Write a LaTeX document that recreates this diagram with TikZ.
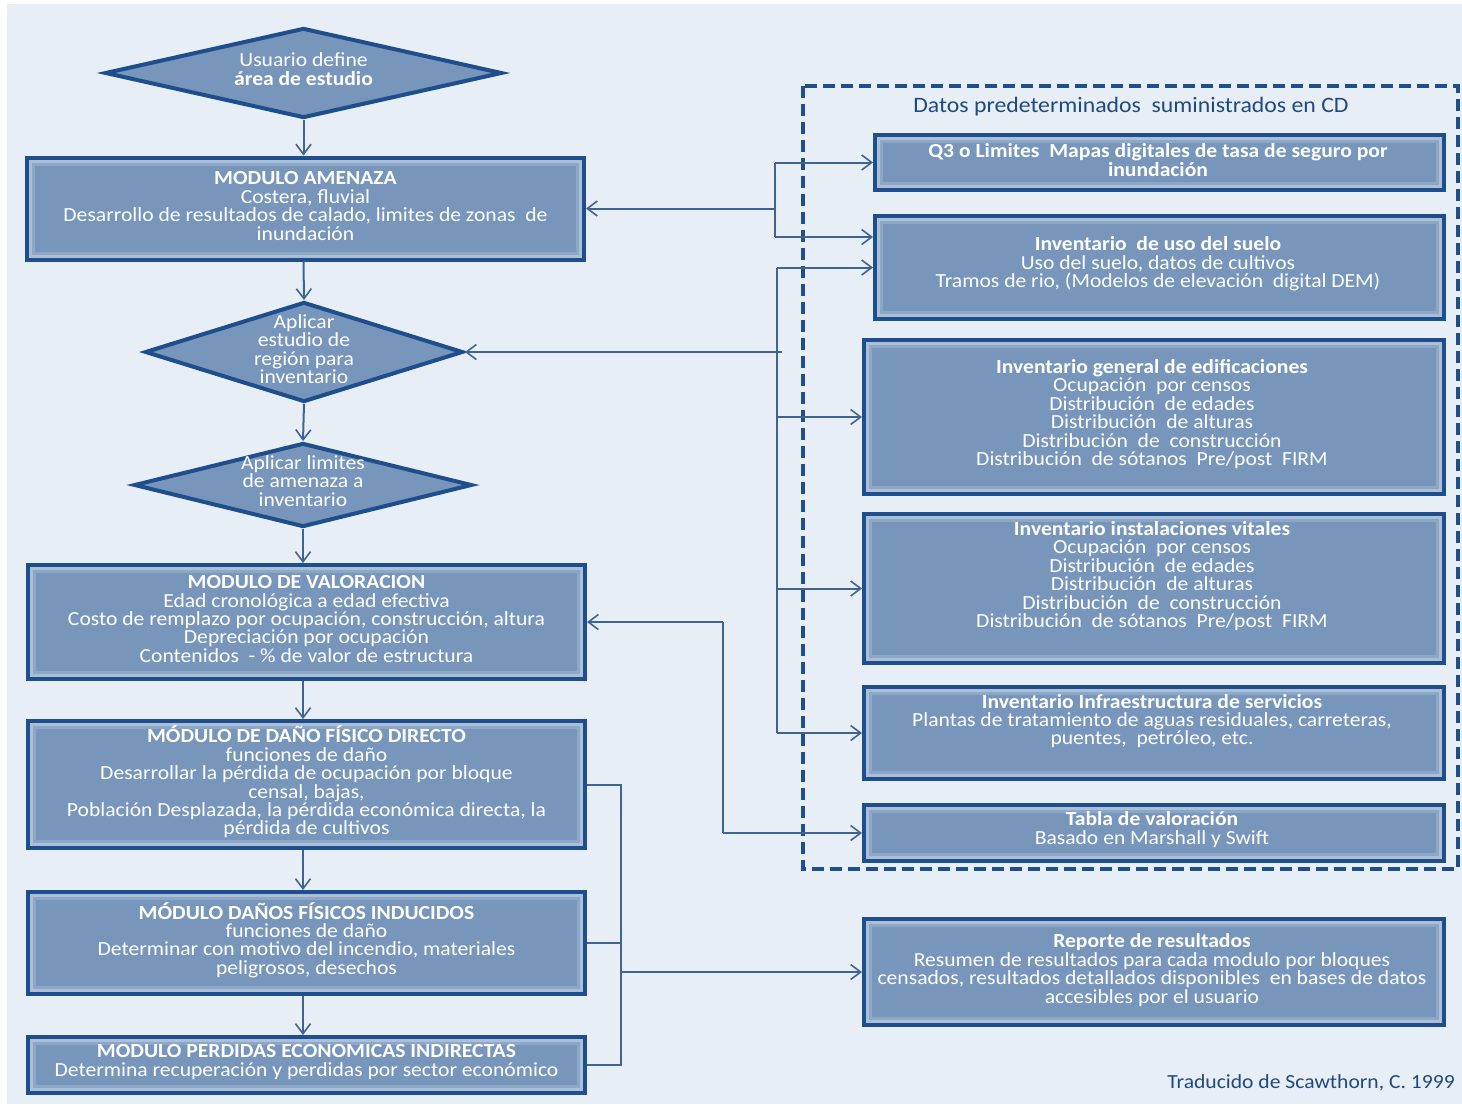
\documentclass[tikz,border=0pt]{standalone}
\usepackage{fontspec}
\setmainfont{Carlito}[FakeStretch=1.08]
\usetikzlibrary{arrows.meta,shapes.geometric}
\definecolor{bg}{HTML}{E8EEF5}
\definecolor{boxfill}{HTML}{7896BC}
\definecolor{boxline}{HTML}{1F4E8C}
\definecolor{conncol}{HTML}{3F6494}
\definecolor{glow}{HTML}{B5C7DE}
\definecolor{titlecol}{HTML}{1F4A80}
\begin{document}
\begin{tikzpicture}[x=1pt,y=-1pt,
  box/.style={rectangle, draw=boxline, line width=4pt, fill=boxfill, inner sep=0pt,
    path picture={
      \draw[glow, line width=3pt, opacity=.85]
        ([shift={(3.5pt,-3.5pt)}]path picture bounding box.north west) rectangle
        ([shift={(-3.5pt,3.5pt)}]path picture bounding box.south east);
      \draw[glow, line width=3pt, opacity=.35]
        ([shift={(6.5pt,-6.5pt)}]path picture bounding box.north west) rectangle
        ([shift={(-6.5pt,6.5pt)}]path picture bounding box.south east);}},
  decision/.style={diamond, draw=boxline, line width=4pt, fill=boxfill, inner sep=0pt},
  txt/.style={text=white, align=center, inner sep=0pt, font=\fontsize{20}{18.4}\selectfont},
  conn/.style={draw=conncol, line width=2pt},
  rail/.style={draw=conncol, line width=2.6pt},
  tip/.style={-{Straight Barb[length=10pt,width=15pt,line width=1.6pt]}}
]
% canvas
\useasboundingbox (0,0) rectangle (1462,1104);
\fill[white] (0,0) rectangle (1462,1104);
\fill[bg] (7,4) rectangle (1462,1104);

% ---------- main flow (left column) ----------
\node[decision, minimum width=397pt, minimum height=90pt] (d1) at (303.5,73) {};
\node[txt] (d1t) at (303.5,69) {Usuario define\\\textbf{área de estudio}};

\node[box, minimum width=557pt, minimum height=102pt] (amenaza) at (305.5,208.5) {};
\node[txt] (amenazat) at (305.5,206) {\textbf{MODULO AMENAZA}\\Costera, fluvial\\Desarrollo de resultados de calado, limites de zonas \ de\\inundación};

\node[decision, minimum width=318pt, minimum height=100pt] (d2) at (304,352) {};
\node[txt] (d2t) at (304,349) {Aplicar\\estudio de\\región para\\inventario};

\node[decision, minimum width=338pt, minimum height=84pt] (d3) at (303,485) {};
\node[txt] (d3t) at (303,481) {Aplicar limites\\de amenaza a\\inventario};

\node[box, minimum width=557pt, minimum height=114pt] (valor) at (306.5,622) {};
\node[txt] (valort) at (306.5,619) {\textbf{MODULO DE VALORACION}\\Edad cronológica a edad efectiva\\Costo de remplazo por ocupación, construcción, altura\\Depreciación por ocupación\\Contenidos \ - \% de valor de estructura};

\node[box, minimum width=557pt, minimum height=127pt] (directo) at (306.5,784.5) {};
\node[txt] (directot) at (306.5,782) {\textbf{MÓDULO DE DAÑO FÍSICO DIRECTO}\\funciones de daño\\Desarrollar la pérdida de ocupación por bloque\\censal, bajas,\\Población Desplazada, la pérdida económica directa, la\\pérdida de cultivos};

\node[box, minimum width=557pt, minimum height=102pt] (inducido) at (306.5,943) {};
\node[txt] (inducidot) at (306.5,940) {\textbf{MÓDULO DAÑOS FÍSICOS INDUCIDOS}\\funciones de daño\\Determinar con motivo del incendio, materiales\\peligrosos, desechos};

\node[box, minimum width=557pt, minimum height=56pt] (indirecto) at (306.5,1065) {};
\node[txt] (indirectot) at (306.5,1062) {\textbf{MODULO PERDIDAS ECONOMICAS INDIRECTAS}\\Determina recuperación y perdidas por sector económico};

% ---------- default data (right column) ----------
\draw[boxline, line width=4pt, dash pattern=on 12pt off 6pt] (803,86) rectangle (1458,869);
\node[text=titlecol, inner sep=0pt, font=\fontsize{22}{24}\selectfont] (cdtitle) at (1131,107) {Datos predeterminados \ suministrados en CD};

\node[box, minimum width=569pt, minimum height=55pt] (q3) at (1159.5,162.5) {};
\node[txt] (q3t) at (1158,160) {\textbf{Q3 o Limites \ Mapas digitales de tasa de seguro por}\\\textbf{inundación}};

\node[box, minimum width=569pt, minimum height=103pt] (suelo) at (1159.5,267.5) {};
\node[txt] (suelot) at (1158,264) {\textbf{Inventario \ de uso del suelo}\\Uso del suelo, datos de cultivos\\Tramos de rio, (Modelos de elevación \ digital DEM)};

\node[box, minimum width=580pt, minimum height=154pt] (edif) at (1154,417) {};
\node[txt] (edift) at (1152,414) {\textbf{Inventario general de edificaciones}\\Ocupación \ por censos\\Distribución \ de edades\\Distribución \ de alturas\\Distribución \ de \ construcción\\Distribución \ de sótanos \ Pre/post \ FIRM};

\node[box, minimum width=580pt, minimum height=149pt] (vital) at (1154,588.5) {};
\node[txt] (vitalt) at (1152,576) {\textbf{Inventario instalaciones vitales}\\Ocupación \ por censos\\Distribución \ de edades\\Distribución \ de alturas\\Distribución \ de \ construcción\\Distribución \ de sótanos \ Pre/post \ FIRM};

\node[box, minimum width=580pt, minimum height=92pt] (infra) at (1154,733) {};
\node[txt] (infrat) at (1152,721) {\textbf{Inventario Infraestructura de servicios}\\Plantas de tratamiento de aguas residuales, carreteras,\\puentes, \ petróleo, etc.};

\node[box, minimum width=580pt, minimum height=56pt] (tabla) at (1154,833) {};
\node[txt] (tablat) at (1152,829.5) {\textbf{Tabla de valoración}\\Basado en Marshall y Swift};

\node[box, minimum width=580pt, minimum height=106pt] (reporte) at (1154,972) {};
\node[txt] (reportet) at (1152,970) {\textbf{Reporte de resultados}\\Resumen de resultados para cada modulo por bloques\\censados, resultados detallados disponibles \ en bases de datos\\accesibles por el usuario};

\node[anchor=east, text=titlecol, inner sep=0pt, font=\fontsize{20}{22}\selectfont] (credit) at (1455,1083) {Traducido de Scawthorn, C. 1999};

% ---------- vertical flow ----------
\draw[conn,tip] (d1.south) -- (d1.south |- amenaza.north);
\draw[conn,tip] (d1.south |- amenaza.south) -- (d2.north);
\draw[conn,tip] (d2.south) -- (d3.north);
\draw[conn,tip] (d3.south) -- (d3.south |- valor.north);
\draw[conn,tip] (d3.south |- valor.south) -- (d3.south |- directo.north);
\draw[conn,tip] (d3.south |- directo.south) -- (d3.south |- inducido.north);
\draw[conn,tip] (d3.south |- inducido.south) -- (d3.south |- indirecto.north);

% ---------- hazard maps and land use ----------
\coordinate (rail1) at (775,208.5);
\draw[conn,tip] (rail1) -- (amenaza.east);
\draw[rail] (rail1 |- q3.west) -- (rail1);
\draw[conn,tip] (rail1 |- q3.west) -- (q3.west);
\draw[rail] (rail1) -- ([yshift=30.5pt]rail1 |- suelo.west);
\draw[conn,tip] ([yshift=30.5pt]rail1 |- suelo.west) -- ([yshift=30.5pt]suelo.west);

% ---------- inventories ----------
\coordinate (rail2) at (777,352);
\draw[conn,tip] ([xshift=5pt]rail2) -- (d2.east);
\draw[rail] (rail2 |- suelo.west) -- (rail2 |- infra.west);
\draw[conn,tip] (rail2 |- suelo.west) -- (suelo.west);
\draw[conn,tip] (rail2 |- edif.west) -- (edif.west);
\draw[conn,tip] (rail2 |- vital.west) -- (vital.west);
\draw[conn,tip] (rail2 |- infra.west) -- (infra.west);

% ---------- valuation table ----------
\coordinate (rail3) at (723,622);
\draw[conn,tip] (rail3 |- valor.east) -- (valor.east);
\draw[conn] (rail3 |- valor.east) -- (rail3 |- tabla.west);
\draw[conn,tip] (rail3 |- tabla.west) -- (tabla.west);

% ---------- results report ----------
\coordinate (rail4) at (621,972);
\draw[conn] (directo.east) -- (rail4 |- directo.east) -- (rail4 |- indirecto.east) -- (indirecto.east);
\draw[conn] (inducido.east) -- (rail4 |- inducido.east);
\draw[conn,tip] (rail4 |- reporte.west) -- (reporte.west);
\end{tikzpicture}
\end{document}
